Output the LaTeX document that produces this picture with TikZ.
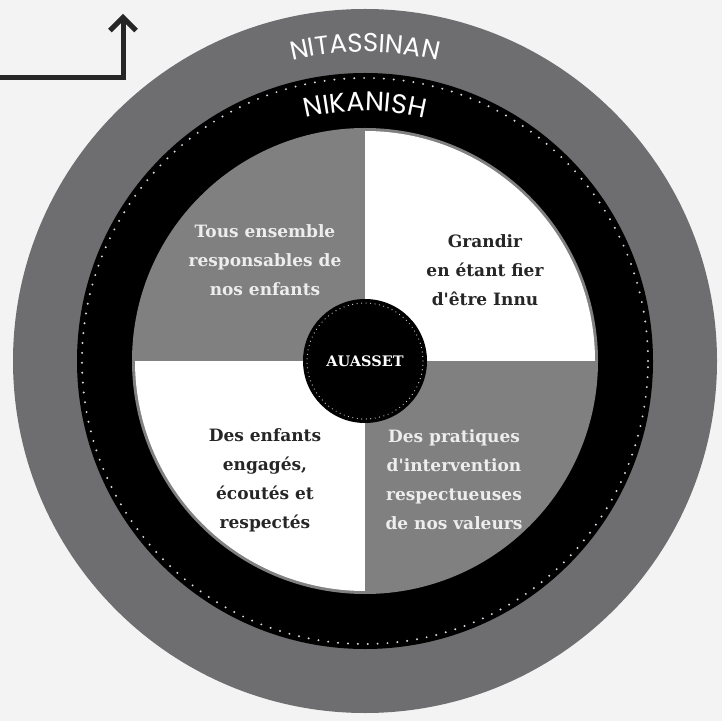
\documentclass[tikz,border=0pt]{standalone}
\usepackage{fontspec}
\setmainfont{DejaVu Serif}
\newfontfamily\ringfont{Poppins}
\usetikzlibrary{arrows.meta,calc,decorations.text}

\definecolor{paper}{RGB}{243,243,243}
\definecolor{ringgray}{RGB}{110,110,113}
\definecolor{quadgray}{RGB}{128,128,128}
\definecolor{arrowink}{RGB}{38,38,38}
\definecolor{dotwhite}{RGB}{215,215,215}

\tikzset{
  quadtext/.style={align=center, font=\fontsize{17}{29}\selectfont\bfseries},
  ringdots/.style={dotwhite, line cap=round, dash pattern=on 0pt off #1},
}

\begin{document}
\begin{tikzpicture}[x=1pt, y=1pt]
  \useasboundingbox (0,0) rectangle (722,721);
  \fill[paper] (0,0) rectangle (722,721);

  \coordinate (mid) at (365,360);

  %% arrow in the corner
  \coordinate (arrow start) at (0,643);
  \coordinate (arrow bend) at (123,643);
  \coordinate (arrow end) at (123,707);
  \draw[arrowink, line width=5pt, -{Straight Barb[length=13pt, width=26pt]}]
      (arrow start) -- (arrow bend) -- (arrow end);

  %% rings
  \fill[ringgray] (mid) circle (352);
  \fill[black] (mid) circle (288);
  \draw[ringdots=9.9pt, line width=2.2pt] (mid) circle (283);

  %% quadrants
  \fill[quadgray] (mid) circle (233);
  \begin{scope}
    \clip (mid) circle (230);
    \fill[white] (mid) rectangle ++(240,240);
    \fill[white] (mid) rectangle ++(-240,-240);
  \end{scope}

  %% curved ring names
  \path[decorate, decoration={text along path, text align=center, text color=white,
      text={|\ringfont\fontsize{26}{26}\selectfont|NITASSINAN}}]
    ($(mid)+(160:309)$) arc[start angle=160, end angle=20, radius=309];
  \path[decorate, decoration={text along path, text align=center, text color=white,
      text={|\ringfont\fontsize{27}{27}\selectfont|NIKANISH}}]
    ($(mid)+(160:250)$) arc[start angle=160, end angle=20, radius=250];

  %% centre
  \node[circle, fill=black, minimum size=124pt, inner sep=0pt, text=white,
        font=\fontsize{14.5}{14.5}\selectfont\bfseries] (core) at (mid) {AUASSET};
  \draw[ringdots=4.5pt, line width=1.2pt] (core.center) circle (58);

  \node[quadtext, text=white!93!black] (together) at ($(mid)+(-100,101)$)
      {Tous ensemble\\responsables de\\nos enfants};
  \node[quadtext, text=black!85] (proud) at ($(mid)+(120,91)$)
      {Grandir\\en étant fier\\d\textquotesingle être Innu};
  \node[quadtext, text=black!85] (children) at ($(mid)+(-100,-119)$)
      {Des enfants\\engagés,\\écoutés et\\respectés};
  \node[quadtext, text=white!93!black] (practice) at ($(mid)+(89,-119)$)
      {Des pratiques\\d\textquotesingle intervention\\respectueuses\\de nos valeurs};
\end{tikzpicture}
\end{document}
